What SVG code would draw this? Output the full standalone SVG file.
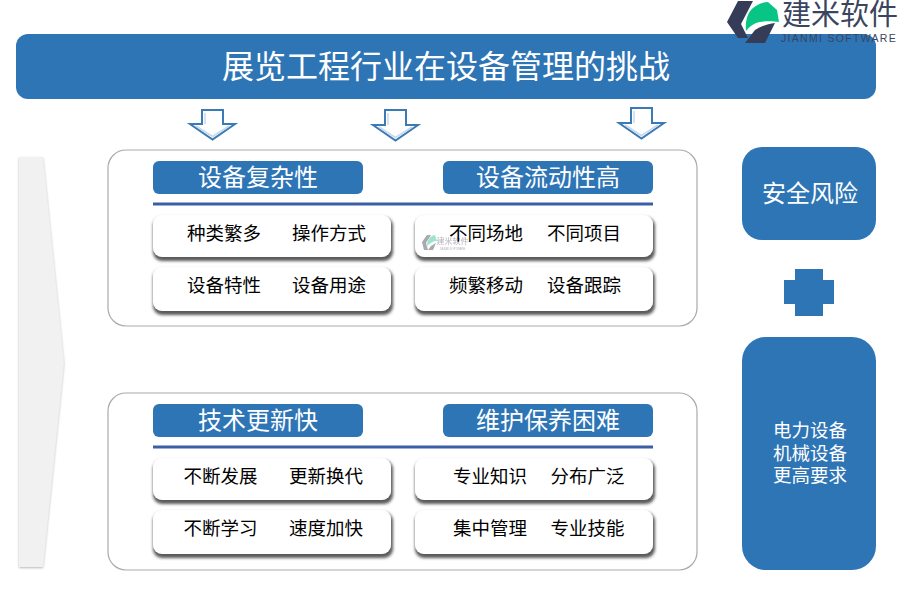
<svg xmlns="http://www.w3.org/2000/svg" width="900" height="600" viewBox="0 0 900 600">
<style>
text{font-family:"Noto Sans CJK SC","Liberation Sans",sans-serif;text-anchor:middle}
.blue{fill:#2e75b6}
.panel{fill:#fff;stroke:#aaa;stroke-width:1.2}
.head{fill:#2e75b6}
.ht{fill:#fff;font-size:24px}
.card{fill:#fff;filter:url(#sh)}
.ct{fill:#000;font-size:18.500px}
.wt{fill:#fff;font-size:18.500px}
.rule{stroke:#3a5fa5;stroke-width:3}
.arr{fill:#fff;stroke:#3c7ab6;stroke-width:2}
.arri{fill:none;stroke:#c6daec;stroke-width:1.500}
.en{font-family:"Liberation Sans",sans-serif}
</style>
<defs>
<filter id="sh" x="-5%" y="-20%" width="110%" height="150%"><feMorphology in="SourceAlpha" operator="dilate" radius="1" result="d"/><feGaussianBlur in="d" stdDeviation="1.500" result="b"/><feOffset in="b" dx="0.500" dy="2.500" result="o"/><feFlood flood-color="#5a5a5a"/><feComposite in2="o" operator="in" result="s"/><feMerge><feMergeNode in="s"/><feMergeNode in="SourceGraphic"/></feMerge></filter>
<filter id="sh2" x="-20%" y="-5%" width="140%" height="110%"><feDropShadow dx="0" dy="1" stdDeviation="1" flood-color="#888" flood-opacity=".6"/></filter>
</defs>
<g id="title">
<rect x="16" y="34" width="860" height="65" rx="12" class="blue"/>
<text x="446" y="78" style="font-size:32px;fill:#fff">展览工程行业在设备管理的挑战</text>
</g>
<g id="logo">
<path d="M738 1H753L741 24L748 38H738L727 22Z" fill="#353c58"/>
<path d="M746 31C745 20 748 12 753 8C758 4 763 2 768 2L777 10L779 22C772 21 762 21 756 23C752 25 749 27 746 31Z" fill="#08c586"/>
<path d="M745 43L755 30C761 26 768 24 775 23L765 43Z" fill="#353c58"/>
<text x="840" y="25" style="font-size:29px;fill:#3a4560">建米软件</text>
<text x="839" y="42" class="en" style="font-size:10.500px;fill:#3a4560;letter-spacing:1.300px">JIANMI SOFTWARE</text>
</g>
<g id="arrows">
<g id="arrow-1"><path class="arr" d="M202 110H223V124H235L212.500 139.500L190 124H202Z"/><path class="arri" d="M205 124V113M196 126L212.500 136.500L229 126"/></g>
<g id="arrow-2"><path class="arr" d="M385 110H406V125H418L395.500 140.500L373 125H385Z"/><path class="arri" d="M388 125V113M379 127L395.500 137.500L412 127"/></g>
<g id="arrow-3"><path class="arr" d="M631 108H652V123H664L641.500 138.500L619 123H631Z"/><path class="arri" d="M634 123V111M625 125L641.500 135.500L658 125"/></g>
</g>
<g id="side-arrow"><path d="M19 157H43L64 363L43 567H19Z" fill="#f1f1f1" filter="url(#sh2)"/></g>
<g id="panel-top">
<rect x="108" y="150" width="589" height="176" rx="18" class="panel"/>
<line x1="153" y1="204" x2="653" y2="204" class="rule"/>
</g>
<g id="head-1"><rect x="153" y="161" width="210" height="33" rx="6" class="head"/><text x="258" y="186" class="ht">设备复杂性</text></g>
<g id="head-2"><rect x="443" y="161" width="210" height="33" rx="6" class="head"/><text x="548" y="186" class="ht">设备流动性高</text></g>
<g id="card-1"><rect x="153" y="215" width="238" height="42" rx="9" class="card"/><text x="224" y="240" class="ct">种类繁多</text><text x="329" y="240" class="ct">操作方式</text></g>
<g id="card-2"><rect x="153" y="267" width="238" height="44" rx="9" class="card"/><text x="224" y="292" class="ct">设备特性</text><text x="329" y="292" class="ct">设备用途</text></g>
<g id="card-3"><rect x="415" y="215" width="238" height="42" rx="9" class="card"/>
<g id="watermark" opacity=".5"><path d="M427 235L431 235L426 243L428 250L424 250L422 242Z" fill="#556"/><path d="M427 246C427 240 430 236 435 235L437 241C433 241 430 243 427 246Z" fill="#3bcc9a"/><path d="M428 250L431 246L436 243L433 250Z" fill="#556"/><text x="452.500" y="244" style="font-size:8px;fill:#667">建米软件</text><text x="452.500" y="249.500" class="en" style="font-size:2.800px;fill:#667">JIANMI SOFTWARE</text></g>
<text x="486" y="240" class="ct">不同场地</text><text x="584" y="240" class="ct">不同项目</text></g>
<g id="card-4"><rect x="415" y="267" width="238" height="44" rx="9" class="card"/><text x="486" y="292" class="ct">频繁移动</text><text x="584" y="292" class="ct">设备跟踪</text></g>
<g id="panel-bottom">
<rect x="108" y="393" width="589" height="177" rx="18" class="panel"/>
<line x1="153" y1="447" x2="653" y2="447" class="rule"/>
</g>
<g id="head-3"><rect x="153" y="404" width="210" height="33" rx="6" class="head"/><text x="258" y="429" class="ht">技术更新快</text></g>
<g id="head-4"><rect x="443" y="404" width="210" height="33" rx="6" class="head"/><text x="548" y="429" class="ht">维护保养困难</text></g>
<g id="card-5"><rect x="153" y="458" width="238" height="42" rx="9" class="card"/><text x="220.500" y="483" class="ct">不断发展</text><text x="326" y="483" class="ct">更新换代</text></g>
<g id="card-6"><rect x="153" y="510" width="238" height="44" rx="9" class="card"/><text x="220.500" y="535" class="ct">不断学习</text><text x="326" y="535" class="ct">速度加快</text></g>
<g id="card-7"><rect x="415" y="458" width="238" height="42" rx="9" class="card"/><text x="490" y="483" class="ct">专业知识</text><text x="587.500" y="483" class="ct">分布广泛</text></g>
<g id="card-8"><rect x="415" y="510" width="238" height="44" rx="9" class="card"/><text x="490" y="535" class="ct">集中管理</text><text x="587.500" y="535" class="ct">专业技能</text></g>
<g id="risk"><rect x="742" y="147" width="134" height="93" rx="20" class="blue"/><text x="810" y="202" style="font-size:24px;fill:#fff">安全风险</text></g>
<g id="plus"><path d="M795 269H823V280H834V304H823V316H795V304H784V280H795Z" class="blue"/></g>
<g id="req"><rect x="742" y="337" width="134" height="233" rx="24" class="blue"/>
<text x="810" y="437" class="wt">电力设备</text><text x="810" y="459.500" class="wt">机械设备</text><text x="810" y="482" class="wt">更高要求</text></g>
</svg>
